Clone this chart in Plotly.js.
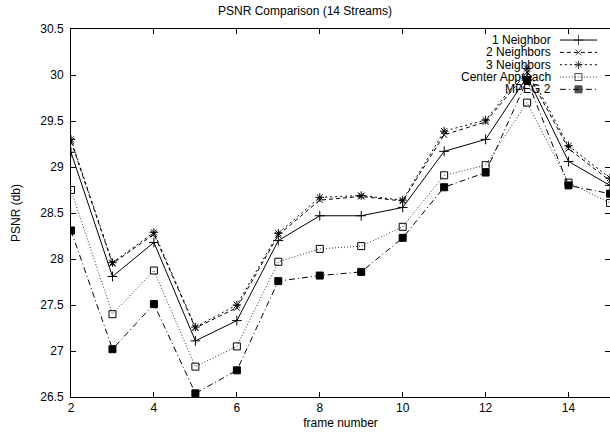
<!DOCTYPE html>
<html>
<head>
<meta charset="utf-8">
<script src="https://cdn.plot.ly/plotly-3.0.1.min.js"></script>
<style>html,body{margin:0;padding:0;background:#fff;}#chart{width:610px;height:436px;}</style>
</head>
<body>
<div id="chart"></div>
<script>
const frames = [2, 3, 4, 5, 6, 7, 8, 9, 10, 11, 12, 13, 14, 15];
const oneNeighbor   = [29.16, 27.81, 28.18, 27.11, 27.33, 28.20, 28.47, 28.47, 28.56, 29.17, 29.30, 29.98, 29.06, 28.80];
const twoNeighbors  = [29.28, 27.95, 28.27, 27.25, 27.47, 28.26, 28.64, 28.68, 28.63, 29.35, 29.49, 30.03, 29.20, 28.85];
const threeNeighbors= [29.30, 27.96, 28.29, 27.26, 27.50, 28.28, 28.67, 28.69, 28.64, 29.39, 29.51, 30.07, 29.23, 28.88];
const centerApproach= [28.75, 27.40, 27.875, 26.83, 27.05, 27.97, 28.11, 28.14, 28.35, 28.91, 29.02, 29.70, 28.83, 28.61];
const mpeg2         = [28.31, 27.02, 27.51, 26.54, 26.79, 27.76, 27.82, 27.86, 28.23, 28.78, 28.94, 29.945, 28.80, 28.71];
const seriesNames = ["1 Neighbor", "2 Neighbors", "3 Neighbors", "Center Approach", "MPEG 2"];
const xTicks = [2, 4, 6, 8, 10, 12, 14];
const yTicks = [26.5, 27, 27.5, 28, 28.5, 29, 29.5, 30, 30.5];

const styles = [
  {dash: 'solid', symbol: 'cross-thin-open', color: '#000', size: 7},
  {dash: '4px,3px', symbol: 'x-thin-open', color: '#000', size: 6},
  {dash: '2px,3px', symbol: 'asterisk-open', color: '#000', size: 7},
  {dash: '1px,2px', symbol: 'square-open', color: '#333', size: 7},
  {dash: '6px,3px,1px,3px', symbol: 'square', color: '#000', size: 7}
];
const allSeries = [oneNeighbor, twoNeighbors, threeNeighbors, centerApproach, mpeg2];
const FONT = 'Liberation Sans, Arial, Helvetica, sans-serif';

const traces = allSeries.map((ys, i) => ({
  type: 'scatter', mode: 'lines+markers', name: seriesNames[i], showlegend: false,
  x: frames, y: ys,
  line: {color: styles[i].color, width: 1, dash: styles[i].dash},
  marker: {symbol: styles[i].symbol, size: styles[i].size, color: '#000', line: {color: '#000', width: 1}}
}));

// gnuplot-style key: text on the left, line sample on the right (positions in plot-fraction units)
const key = {textRight: 0.894, x0: 0.907, x1: 0.976, top: 0.970, step: 0.0335};
const annotations = [];
seriesNames.forEach((name, i) => {
  const yk = key.top - i * key.step;
  annotations.push({xref: 'paper', yref: 'paper', x: key.textRight, y: yk, xanchor: 'right', yanchor: 'middle',
    text: name, showarrow: false, font: {size: 12, family: FONT, color: '#000'}});
  traces.push({
    type: 'scatter', mode: 'lines+markers', showlegend: false, hoverinfo: 'skip',
    xaxis: 'x2', yaxis: 'y2', cliponaxis: false,
    x: [key.x0, (key.x0 + key.x1) / 2, key.x1], y: [yk, yk, yk],
    line: {color: styles[i].color, width: 1, dash: styles[i].dash},
    marker: {symbol: styles[i].symbol, size: [0, styles[i].size, 0], color: '#000', line: {color: '#000', width: 1}}
  });
});

const layout = {
  width: 610, height: 436,
  margin: {l: 71, r: 0, t: 29, b: 39},
  paper_bgcolor: '#fff', plot_bgcolor: '#fff',
  font: {family: FONT, size: 12, color: '#000'},
  title: {text: 'PSNR Comparison (14 Streams)', x: 0.5, xanchor: 'center', y: 0.985, yanchor: 'top', font: {size: 12, family: FONT}},
  xaxis: {
    range: [2, 15], tickvals: xTicks, ticktext: xTicks.map(String),
    ticks: 'inside', ticklen: 5, tickcolor: '#000', showline: true, linecolor: '#000', linewidth: 1,
    mirror: 'allticks', showgrid: false, zeroline: false,
    title: {text: 'frame number', standoff: 4, font: {size: 12}}
  },
  yaxis: {
    range: [26.5, 30.5], tickvals: yTicks, ticktext: yTicks.map(String),
    ticks: 'inside', ticklen: 5, tickcolor: '#000', showline: true, linecolor: '#000', linewidth: 1,
    mirror: 'allticks', showgrid: false, zeroline: false, ticklabelstandoff: 4,
    title: {text: 'PSNR (db)', standoff: 17, font: {size: 12}}
  },
  xaxis2: {overlaying: 'x', range: [0, 1], visible: false, fixedrange: true},
  yaxis2: {overlaying: 'y', range: [0, 1], visible: false, fixedrange: true},
  annotations: annotations,
  showlegend: false
};

Plotly.newPlot('chart', traces, layout, {displayModeBar: false, staticPlot: true});
</script>
</body>
</html>
